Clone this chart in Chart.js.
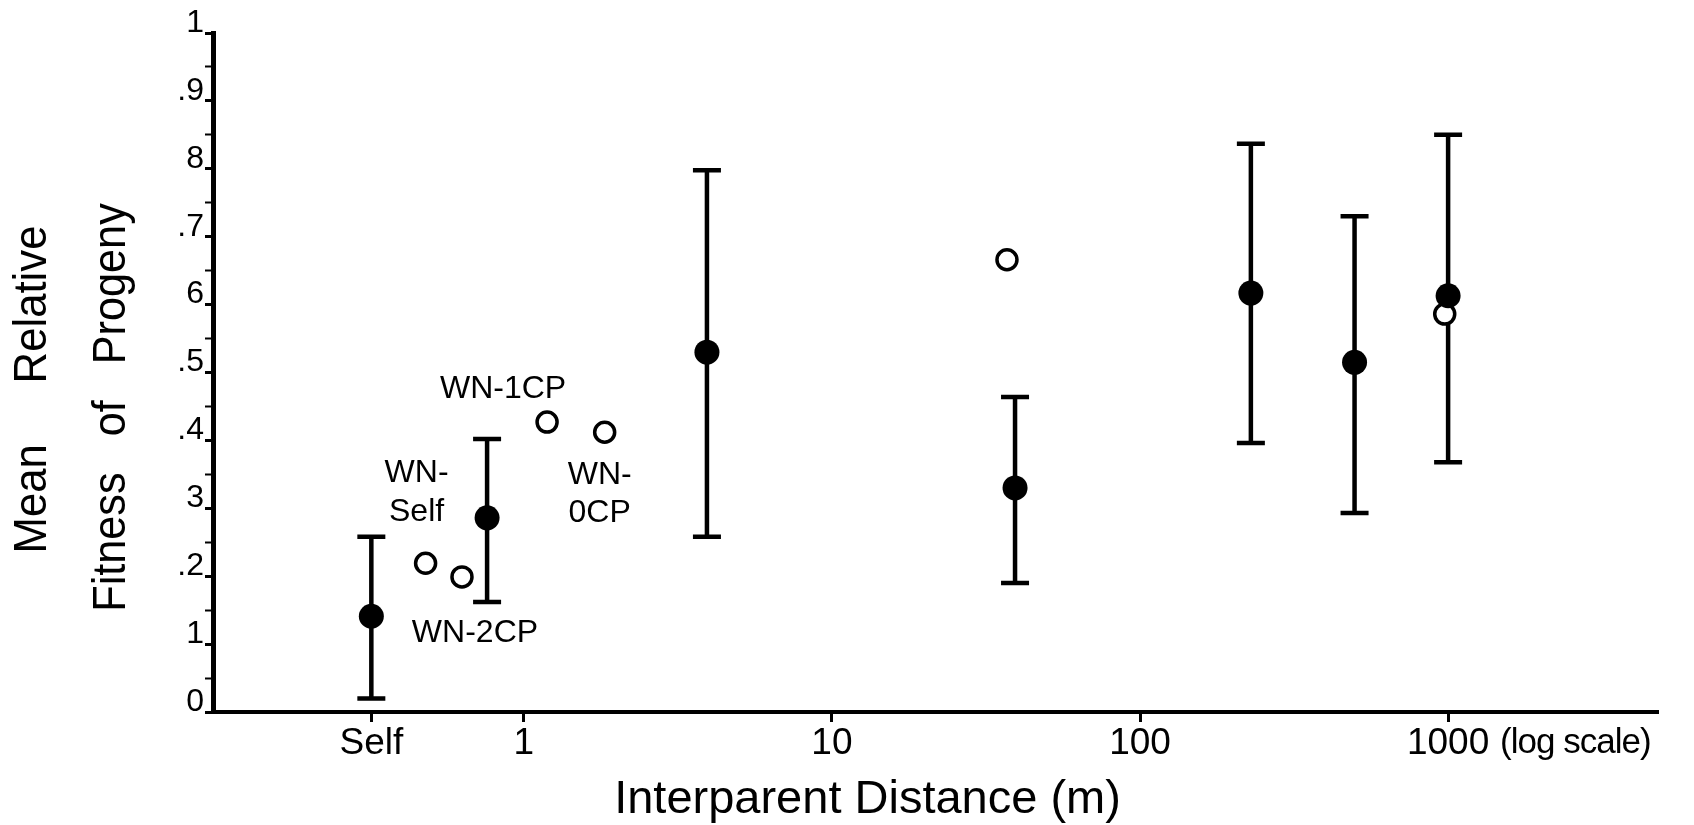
<!DOCTYPE html>
<html>
<head>
<meta charset="utf-8">
<script src="https://cdn.jsdelivr.net/npm/chart.js@4.4.0/dist/chart.umd.min.js"></script>
<style>
  html, body { margin: 0; padding: 0; background: #fff; }
  #wrap { width: 1694px; height: 825px; }
</style>
</head>
<body>
<div id="wrap"><canvas id="myChart"></canvas></div>
<script>
// crosses at a given interparent distance: mean and the bar ends
var meanDistance = [0.32, 0.76, 3.93, 39.3, 229, 497, 1000];
var meanFitness = [0.141, 0.286, 0.530, 0.330, 0.617, 0.515, 0.613];
var upperFitness = [0.258, 0.402, 0.798, 0.464, 0.837, 0.730, 0.850];
var lowerFitness = [0.02, 0.162, 0.258, 0.190, 0.396, 0.293, 0.368];

// open circles (WN crosses)
var wnNames = ["WN-Self", "WN-2CP", "WN-1CP", "WN-0CP", "", ""];
var wnDistance = [0.48, 0.63, 1.19, 1.83, 37.0, 975];
var wnFitness = [0.219, 0.199, 0.427, 0.412, 0.666, 0.586];

var xTickValues = [0.32, 1, 10, 100, 1000];
var xTickLabels = ["Self", "1", "10", "100", "1000"];
var yTickLabels = ["0", "1", ".2", "3", ".4", ".5", "6", ".7", "8", ".9", "1"];

var FONT = "'Liberation Sans', Arial, sans-serif";

// where each WN label sits relative to its circle
var labelSpots = {
  "WN-Self": { dx: -9, dy: [-90, -51] },
  "WN-2CP": { dx: 13, dy: [56] },
  "WN-1CP": { dx: -44, dy: [-33] },
  "WN-0CP": { dx: -5, dy: [43, 81] }
};

var errorBars = {
  id: "errorBars",
  beforeDatasetsDraw: function(chart) {
    var ctx = chart.ctx, xs = chart.scales.x, ys = chart.scales.y;
    ctx.save();
    ctx.strokeStyle = "#000";
    ctx.lineWidth = 4.5;
    for (var i = 0; i < meanDistance.length; i++) {
      var px = xs.getPixelForValue(meanDistance[i]);
      var top = ys.getPixelForValue(upperFitness[i]);
      var bot = ys.getPixelForValue(lowerFitness[i]);
      ctx.beginPath();
      ctx.moveTo(px, top); ctx.lineTo(px, bot);
      ctx.moveTo(px - 14, top); ctx.lineTo(px + 14, top);
      ctx.moveTo(px - 14, bot); ctx.lineTo(px + 14, bot);
      ctx.stroke();
    }
    ctx.restore();
  }
};

function squeezedText(ctx, text, x, y, sx) {
  ctx.save();
  ctx.translate(x, y);
  ctx.scale(sx, 1);
  ctx.fillText(text, 0, 0);
  ctx.restore();
}

var textBits = {
  id: "textBits",
  afterDraw: function(chart) {
    var ctx = chart.ctx, area = chart.chartArea;
    var xs = chart.scales.x, ys = chart.scales.y;
    ctx.save();
    ctx.fillStyle = "#000";
    ctx.textAlign = "center";
    ctx.textBaseline = "middle";

    // WN labels
    ctx.font = "32px " + FONT;
    for (var i = 0; i < wnNames.length; i++) {
      var spot = labelSpots[wnNames[i]];
      if (!spot) continue;
      var px = xs.getPixelForValue(wnDistance[i]);
      var py = ys.getPixelForValue(wnFitness[i]);
      var lines = spot.dy.length > 1 ? ["WN-", wnNames[i].slice(3)] : [wnNames[i]];
      for (var j = 0; j < lines.length; j++) {
        ctx.fillText(lines[j], px + spot.dx, py + spot.dy[j]);
      }
    }

    // "(log scale)" next to 1000
    ctx.textAlign = "left";
    ctx.font = "35px " + FONT;
    ctx.letterSpacing = "-1px";
    ctx.fillText("(log scale)", xs.getPixelForValue(1000) + 52, area.bottom + 31);
    ctx.letterSpacing = "0px";

    // x title
    ctx.textAlign = "center";
    ctx.font = "47px " + FONT;
    ctx.fillText("Interparent Distance (m)", (area.left + area.right) / 2 - 68, area.bottom + 88);

    // y title, two lines
    var cy = (area.top + area.bottom) / 2;
    ctx.translate(area.left - 180, cy + 17);
    ctx.rotate(-Math.PI / 2);
    ctx.font = "47px " + FONT;
    squeezedText(ctx, "Mean     Relative", 0, 0, 0.93);
    squeezedText(ctx, "Fitness   of   Progeny", -18, 79, 0.92);
    ctx.restore();
  }
};

new Chart(document.getElementById("myChart"), {
  type: "scatter",
  data: {
    datasets: [
      {
        label: "mean",
        data: meanDistance.map(function(d, i) { return { x: d, y: meanFitness[i] }; }),
        pointRadius: 12.5,
        pointBackgroundColor: "#000",
        pointBorderColor: "#000",
        pointBorderWidth: 0
      },
      {
        label: "WN",
        data: wnDistance.map(function(d, i) { return { x: d, y: wnFitness[i] }; }),
        pointRadius: 10,
        pointBackgroundColor: "#fff",
        pointBorderColor: "#000",
        pointBorderWidth: 3.5
      }
    ]
  },
  options: {
    responsive: true,
    maintainAspectRatio: false,
    animation: false,
    layout: { padding: { top: 33, right: 36, bottom: 0, left: 0 } },
    plugins: {
      legend: { display: false },
      tooltip: { enabled: false }
    },
    scales: {
      x: {
        type: "logarithmic",
        min: 0.098,
        max: 4800,
        afterBuildTicks: function(scale) {
          scale.ticks = xTickValues.map(function(v) { return { value: v }; });
        },
        afterFit: function(scale) { scale.height = 113; },
        border: { display: true, color: "#000", width: 4 },
        grid: { drawOnChartArea: false, drawTicks: true, tickLength: 10, tickWidth: 3, tickColor: "#000" },
        ticks: {
          autoSkip: false,
          maxRotation: 0,
          padding: 0,
          color: "#000",
          font: { family: FONT, size: 37 },
          callback: function(value, index) { return xTickLabels[index]; }
        }
      },
      y: {
        min: 0,
        max: 1,
        afterFit: function(scale) { scale.width = 213; },
        border: { display: true, color: "#000", width: 5 },
        grid: {
          drawOnChartArea: false,
          drawTicks: true,
          tickLength: 8,
          tickWidth: function(c) { return c.index % 2 === 0 ? 3 : 2; },
          tickColor: "#000"
        },
        ticks: {
          stepSize: 0.05,
          autoSkip: false,
          padding: 1,
          labelOffset: -10,
          color: "#000",
          font: { family: FONT, size: 32 },
          callback: function(value) {
            var k = Math.round(value * 20);
            return k % 2 === 0 ? yTickLabels[k / 2] : "";
          }
        }
      }
    }
  },
  plugins: [errorBars, textBits]
});
</script>
</body>
</html>
